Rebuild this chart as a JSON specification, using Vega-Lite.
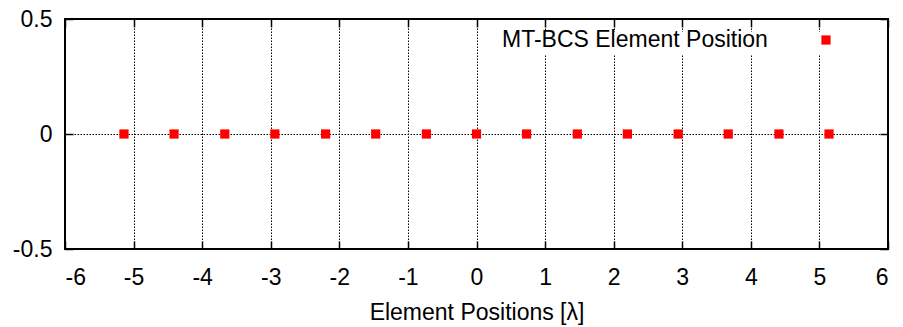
{
  "$schema": "https://vega.github.io/schema/vega-lite/v6.json",
  "width": 823,
  "height": 230,
  "autosize": "none",
  "padding": {"left": 65, "top": 19, "right": 15, "bottom": 78},
  "background": "white",
  "config": {
    "font": "Liberation Sans",
    "view": {"stroke": "black", "strokeWidth": 2},
    "axis": {
      "labelFont": "Liberation Sans",
      "labelFontSize": 23,
      "labelColor": "black",
      "titleFont": "Liberation Sans",
      "titleFontSize": 23,
      "titleFontWeight": "normal",
      "titleColor": "black",
      "tickColor": "black",
      "tickWidth": 1.5,
      "tickSize": -8,
      "domain": false,
      "gridColor": "black",
      "gridOpacity": 1,
      "gridDash": [1.5, 1.5],
      "gridWidth": 1
    }
  },
  "data": {
    "values": [
      {"pos": -5.14, "val": 0, "series": "MT-BCS Element Position"},
      {"pos": -4.41, "val": 0, "series": "MT-BCS Element Position"},
      {"pos": -3.67, "val": 0, "series": "MT-BCS Element Position"},
      {"pos": -2.94, "val": 0, "series": "MT-BCS Element Position"},
      {"pos": -2.2, "val": 0, "series": "MT-BCS Element Position"},
      {"pos": -1.47, "val": 0, "series": "MT-BCS Element Position"},
      {"pos": -0.73, "val": 0, "series": "MT-BCS Element Position"},
      {"pos": 0, "val": 0, "series": "MT-BCS Element Position"},
      {"pos": 0.73, "val": 0, "series": "MT-BCS Element Position"},
      {"pos": 1.47, "val": 0, "series": "MT-BCS Element Position"},
      {"pos": 2.2, "val": 0, "series": "MT-BCS Element Position"},
      {"pos": 2.94, "val": 0, "series": "MT-BCS Element Position"},
      {"pos": 3.67, "val": 0, "series": "MT-BCS Element Position"},
      {"pos": 4.41, "val": 0, "series": "MT-BCS Element Position"},
      {"pos": 5.14, "val": 0, "series": "MT-BCS Element Position"}
    ]
  },
  "layer": [
    {
      "mark": {"type": "square", "size": 85, "opacity": 1, "filled": true},
      "encoding": {
        "x": {
          "field": "pos", "type": "quantitative",
          "scale": {"domain": [-6, 6], "nice": false, "zero": false},
          "axis": {
            "orient": "bottom",
            "values": [-6, -5, -4, -3, -2, -1, 0, 1, 2, 3, 4, 5, 6],
            "format": ".1~f",
            "labelExpr": "replace(datum.label, '\u2212', '-')",
            "labelPadding": 25,
            "title": "Element Positions [λ]",
            "titlePadding": 12,
            "grid": true
          }
        },
        "y": {
          "field": "val", "type": "quantitative",
          "scale": {"domain": [-0.5, 0.5], "nice": false, "zero": false},
          "axis": {
            "orient": "left",
            "values": [-0.5, 0, 0.5],
            "format": ".1~f",
            "labelExpr": "replace(datum.label, '\u2212', '-')",
            "labelPadding": 21,
            "title": null,
            "grid": true
          }
        },
        "color": {
          "field": "series", "type": "nominal",
          "scale": {"range": ["#ff0000"]},
          "legend": {
            "orient": "none",
            "legendX": 434,
            "legendY": 13,
            "title": "MT-BCS Element Position",
            "titleOrient": "left",
            "titleFont": "Liberation Sans",
            "titleFontSize": 23,
            "titleFontWeight": "normal",
            "titleColor": "black",
            "titleLimit": 0,
            "titlePadding": 53,
            "titleBaseline": "middle",
            "labelExpr": "''",
            "labelOffset": 0,
            "symbolType": "square",
            "symbolSize": 85,
            "symbolOpacity": 1,
            "symbolStrokeWidth": 0,
            "fillColor": "white",
            "padding": 3
          }
        }
      }
    },
    {
      "mark": {"type": "square", "opacity": 0},
      "encoding": {
        "x": {
          "field": "pos", "type": "quantitative",
          "axis": {
            "orient": "top",
            "values": [-6, -5, -4, -3, -2, -1, 0, 1, 2, 3, 4, 5, 6],
            "labels": false, "grid": false, "title": null
          }
        },
        "y": {
          "field": "val", "type": "quantitative",
          "axis": {
            "orient": "right",
            "values": [-0.5, 0, 0.5],
            "labels": false, "grid": false, "title": null
          }
        }
      }
    }
  ],
  "resolve": {"axis": {"x": "independent", "y": "independent"}}
}
